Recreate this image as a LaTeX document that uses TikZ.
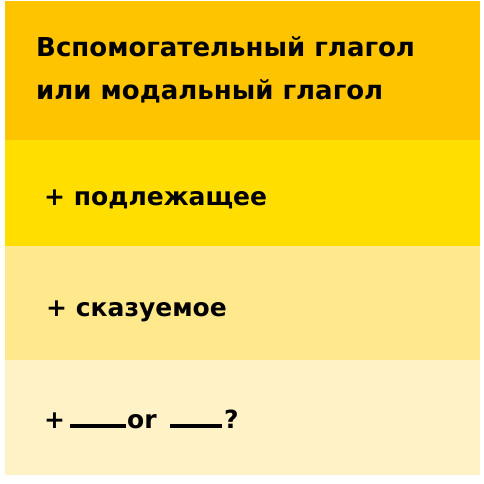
\documentclass[tikz,border=0pt]{standalone}
\usepackage{fontspec}
\setmainfont{DejaVu Sans}
\usepackage{tikz}
\usepackage{xcolor}
\usetikzlibrary{positioning}

\definecolor{bandA}{RGB}{254,196,0}
\definecolor{bandB}{RGB}{255,222,0}
\definecolor{bandC}{RGB}{255,233,140}
\definecolor{bandD}{RGB}{255,242,198}

\tikzset{
    rowtext/.style={anchor=base west, inner sep=0pt, font=\fontsize{25}{30}\selectfont\bfseries},
    titletext/.style={rowtext, font=\fontsize{26}{31}\selectfont\bfseries},
    gap/.style={draw=black, line width=4pt},
}

\begin{document}
\begin{tikzpicture}[x=1pt, y=-1pt]
    \useasboundingbox (0,0) rectangle (483,484);
    % Bands
    \fill[bandA] (5,1) rectangle (480,140);
    \fill[bandB] (5,140) rectangle (480,246);
    \fill[bandC] (5,246) rectangle (480,360);
    \fill[bandD] (5,360) rectangle (480,475);
%
    % Title
    \node[titletext] (auxA) at (36,57) {Вспомогательный глагол};
    \node[titletext] (auxB) at (36,100) {или модальный глагол};
%
    % Rows
    \node[rowtext] (subj) at (44,205) {+ подлежащее};
    \node[rowtext] (pred) at (46,316) {+ сказуемое};
    \node[rowtext] (plus) at (44,428) {+};
    \coordinate (gapAl) at (70,426);
    \coordinate (gapAr) at (126,426);
    \node[rowtext] (orw) at (127,428) {or};
    \coordinate (gapBl) at (170,426);
    \coordinate (gapBr) at (222,426);
    \node[rowtext] (qm) at (224,428) {?};
    \draw[gap] (gapAl) -- (gapAr);
    \draw[gap] (gapBl) -- (gapBr);
\end{tikzpicture}
\end{document}
